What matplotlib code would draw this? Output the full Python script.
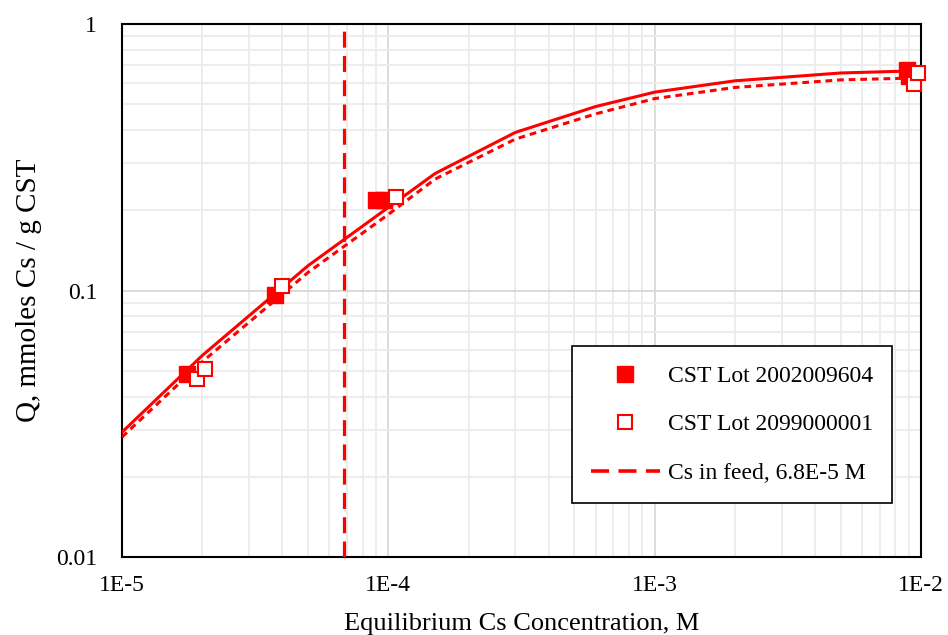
import matplotlib
matplotlib.use("Agg")
import matplotlib.pyplot as plt
from matplotlib.lines import Line2D
from matplotlib.ticker import LogLocator, FixedLocator, FixedFormatter, NullFormatter

plt.rcParams["font.family"] = ["Liberation Serif", "DejaVu Serif"]

# Measured isotherm points
lot1_conc = [1.755e-5, 3.75e-5, 9.0e-5, 9.6e-5, 8.87e-3, 9.02e-3]
lot1_q = [0.0486, 0.0962, 0.218, 0.218, 0.672, 0.638]
lot2_conc = [1.91e-5, 2.05e-5, 3.99e-5, 1.07e-4, 9.42e-3, 9.75e-3]
lot2_q = [0.0466, 0.0507, 0.104, 0.2245, 0.5955, 0.655]

# Fitted isotherm curves
fit_conc = [1e-5, 2e-5, 5e-5, 1e-4, 1.5e-4, 3e-4, 6e-4, 1e-3, 2e-3, 5e-3, 1e-2]
fit1_q = [0.0294, 0.057, 0.124, 0.205, 0.275, 0.392, 0.49, 0.555, 0.612, 0.655, 0.668]
fit2_q = [0.0282, 0.054, 0.117, 0.193, 0.262, 0.370, 0.46, 0.525, 0.578, 0.617, 0.628]

feed_conc = 6.8e-5

x_ticks = [1e-5, 1e-4, 1e-3, 1e-2]
x_tick_labels = ["1E-5", "1E-4", "1E-3", "1E-2"]
y_ticks = [0.01, 0.1, 1]
y_tick_labels = ["0.01", "0.1", "1"]

red = "#ff0000"
feed_dash = (0, (5.0, 2.6))

fig = plt.figure(figsize=(9.48, 6.35), dpi=100)
ax = fig.add_axes([0.1287, 0.1228, 0.8428, 0.8394])
ax.set_xscale("log")
ax.set_yscale("log")
ax.set_xlim(1e-5, 1e-2)
ax.set_ylim(0.01, 1)

ax.xaxis.set_major_locator(FixedLocator(x_ticks))
ax.xaxis.set_major_formatter(FixedFormatter(x_tick_labels))
ax.yaxis.set_major_locator(FixedLocator(y_ticks))
ax.yaxis.set_major_formatter(FixedFormatter(y_tick_labels))
ax.xaxis.set_minor_locator(LogLocator(base=10, subs=range(2, 10)))
ax.yaxis.set_minor_locator(LogLocator(base=10, subs=range(2, 10)))
ax.xaxis.set_minor_formatter(NullFormatter())
ax.yaxis.set_minor_formatter(NullFormatter())

ax.grid(which="major", color="#d9d9d9", linewidth=1.3)
ax.grid(which="minor", color="#ececec", linewidth=1.3)
ax.set_axisbelow(True)
ax.tick_params(which="both", length=0, labelsize=17)
ax.tick_params(axis="y", pad=18)
ax.tick_params(axis="x", pad=13)
for s in ax.spines.values():
    s.set_linewidth(1.5)
    s.set_color("black")

ax.plot(fit_conc, fit1_q, color=red, linewidth=2.2, zorder=3)
ax.plot(fit_conc, fit2_q, color=red, linewidth=2.2, linestyle=(0, (2.2, 1.6)), zorder=3)

ax.plot([feed_conc, feed_conc], [0.01, 1], color=red, linewidth=2.3,
        linestyle=feed_dash, zorder=3)

ax.plot(lot1_conc, lot1_q, linestyle="none", marker="s", markersize=12,
        markerfacecolor=red, markeredgecolor=red, zorder=4, clip_on=False)
ax.plot(lot2_conc, lot2_q, linestyle="none", marker="s", markersize=10.5,
        markerfacecolor="white", markeredgecolor=red, markeredgewidth=1.5,
        zorder=5, clip_on=False)

ax.set_xlabel("Equilibrium Cs Concentration, M", fontsize=19, labelpad=12)
ax.set_ylabel("Q, mmoles Cs / g CST", fontsize=21, labelpad=10)

handles = [
    Line2D([], [], linestyle="none", marker="s", markersize=12,
           markerfacecolor=red, markeredgecolor=red),
    Line2D([], [], linestyle="none", marker="s", markersize=10.5,
           markerfacecolor="white", markeredgecolor=red, markeredgewidth=1.5),
    Line2D([], [], color=red, linewidth=2.6, linestyle=feed_dash),
]
labels = ["CST Lot 2002009604", "CST Lot 2099000001", "Cs in feed, 6.8E-5 M"]
leg = ax.legend(handles, labels, loc="lower right", bbox_to_anchor=(0.9637, 0.1013),
                fontsize=17, frameon=True, fancybox=False, edgecolor="black",
                framealpha=1, labelspacing=1.15, handlelength=2.9,
                borderpad=0.8, borderaxespad=0.0, handletextpad=0.35)
leg.get_frame().set_linewidth(1.2)

fig.savefig("out.png", dpi=100)
